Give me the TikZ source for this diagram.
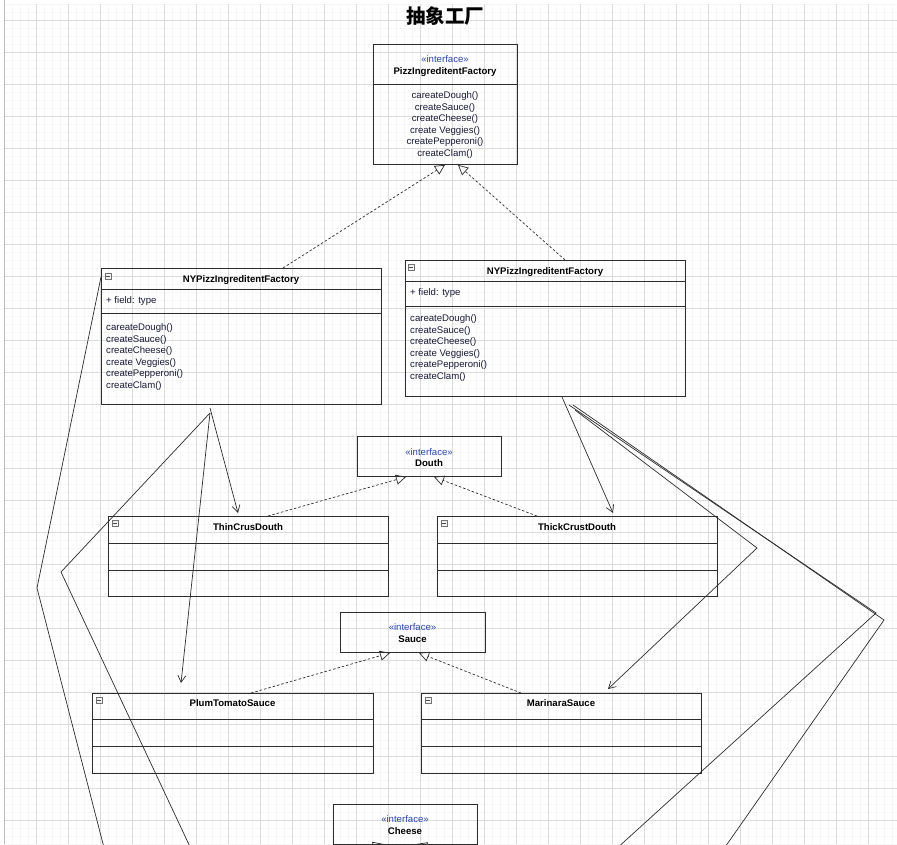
\documentclass[tikz,border=0pt]{standalone}
\usepackage{fontspec}
\setmainfont{Liberation Sans}
\newfontfamily\cjkfont{Noto Sans CJK SC}
\usetikzlibrary{arrows.meta,calc}
\definecolor{iface}{RGB}{40,70,170}
\definecolor{mtxt}{RGB}{25,25,55}
\definecolor{gmin}{RGB}{246,246,246}
\definecolor{gmaj}{RGB}{220,220,220}
\definecolor{lnc}{RGB}{45,45,45}
\tikzset{
  cls/.style={draw=lnc, line width=0.9pt, inner sep=0, anchor=north west},
  txt/.style={font=\fontsize{9.6}{11}\selectfont, text=mtxt, inner sep=0},
  nm/.style={font=\fontsize{9.6}{11}\bfseries\selectfont, text=black, inner sep=0},
  st/.style={font=\fontsize{9.6}{11}\selectfont, text=iface, inner sep=0},
  sep/.style={draw=lnc, line width=0.8pt},
  icon/.style={draw=black!55, line width=0.5pt, minimum size=6pt, inner sep=0, fill=black!6,
    path picture={\draw[black!70,line width=0.6pt] ([xshift=1.2pt]path picture bounding box.west) -- ([xshift=-1.2pt]path picture bounding box.east);}},
  realize/.style={draw=lnc, line width=0.7pt, dash pattern=on 2.5pt off 2pt, -{Triangle[open,length=10pt,width=10pt]}},
  assoc/.style={draw=lnc, line width=0.7pt, -{Straight Barb[length=7pt,width=8pt]}},
  plainln/.style={draw=lnc, line width=0.7pt},
}
\begin{document}
\begin{tikzpicture}[x=1pt,y=-1pt]
\useasboundingbox (0,0) rectangle (897,844);
\clip (0,0) rectangle (897,844);
\fill[white] (0,0) rectangle (897,844);
% grid
\foreach \g in {4,12,...,900} \draw[gmin, line width=0.5pt] (\g,4) -- (\g,844);
\foreach \g in {4,12,...,844} \draw[gmin, line width=0.5pt] (4,\g) -- (897,\g);
\foreach \g in {4,36,...,900} \draw[gmaj, line width=0.6pt] (\g,4) -- (\g,844);
\foreach \g in {20,52,...,844} \draw[gmaj, line width=0.6pt] (4,\g) -- (897,\g);
\draw[black!25, line width=1pt] (4,0) -- (4,844);

% title
\node[inner sep=0, anchor=base, font=\cjkfont\bfseries\fontsize{19.5}{20}\selectfont] (title) at (445,23) {抽象工厂};

% top interface
\node[cls, minimum width=144pt, minimum height=120pt] (topF) at (373,44) {};
\draw[sep] (373,84) -- (517,84);
\node[st, anchor=base] (topFs) at (445,62.5) {«interface»};
\node[nm, anchor=base] (topFn) at (445,74.5) {PizzIngreditentFactory};
\foreach \t [count=\i from 0] in {careateDough(),createSauce(),createCheese(),create Veggies(),createPepperoni(),createClam()}
  \node[txt, anchor=base] (topm\i) at (445,98.5+11.6*\i) {\t};

% left factory
\node[cls, minimum width=280pt, minimum height=136pt] (leftF) at (101,268) {};
\draw[sep] (101,289) -- (381,289);
\draw[sep] (101,313) -- (381,313);
\node[icon] (leftFi) at (108,276) {};
\node[nm, anchor=base] (leftFn) at (241,282.5) {NYPizzIngreditentFactory};
\node[txt, anchor=base west] (leftFf) at (106,303.5) {+ field: type};
\foreach \t [count=\i from 0] in {careateDough(),createSauce(),createCheese(),create Veggies(),createPepperoni(),createClam()}
  \node[txt, anchor=base west] (leftm\i) at (106,330.5+11.6*\i) {\t};

% right factory
\node[cls, minimum width=280pt, minimum height=136pt] (rightF) at (405,260) {};
\draw[sep] (405,281) -- (685,281);
\draw[sep] (405,306) -- (685,306);
\node[icon] (rightFi) at (411,267) {};
\node[nm, anchor=base] (rightFn) at (545,274.5) {NYPizzIngreditentFactory};
\node[txt, anchor=base west] (rightFf) at (410,295.5) {+ field: type};
\foreach \t [count=\i from 0] in {careateDough(),createSauce(),createCheese(),create Veggies(),createPepperoni(),createClam()}
  \node[txt, anchor=base west] (rightm\i) at (410,321.5+11.6*\i) {\t};

% Douth interface
\node[cls, minimum width=144pt, minimum height=40pt] (douthI) at (357,436) {};
\node[st, anchor=base] (douthIs) at (429,455.5) {«interface»};
\node[nm, anchor=base] (douthIn) at (429,466.5) {Douth};

% ThinCrusDouth
\node[cls, minimum width=280pt, minimum height=80pt] (thin) at (108,516) {};
\draw[sep] (108,543) -- (388,543);
\draw[sep] (108,570) -- (388,570);
\node[icon] (thini) at (115,523) {};
\node[nm, anchor=base] (thinn) at (248,530.5) {ThinCrusDouth};

% ThickCrustDouth
\node[cls, minimum width=280pt, minimum height=80pt] (thick) at (437,516) {};
\draw[sep] (437,543) -- (717,543);
\draw[sep] (437,570) -- (717,570);
\node[icon] (thicki) at (444,523) {};
\node[nm, anchor=base] (thickn) at (577,530.5) {ThickCrustDouth};

% Sauce interface
\node[cls, minimum width=145pt, minimum height=40pt] (sauceI) at (340,612) {};
\node[st, anchor=base] (sauceIs) at (412.5,630.5) {«interface»};
\node[nm, anchor=base] (sauceIn) at (412.5,642.5) {Sauce};

% PlumTomatoSauce
\node[cls, minimum width=281pt, minimum height=80pt] (plum) at (92,693) {};
\draw[sep] (92,719) -- (373,719);
\draw[sep] (92,746) -- (373,746);
\node[icon] (plumi) at (99,700) {};
\node[nm, anchor=base] (plumn) at (232.5,706.5) {PlumTomatoSauce};

% MarinaraSauce
\node[cls, minimum width=280pt, minimum height=80pt] (mari) at (421,693) {};
\draw[sep] (421,719) -- (701,719);
\draw[sep] (421,746) -- (701,746);
\node[icon] (marii) at (428,700) {};
\node[nm, anchor=base] (marin) at (561,706.5) {MarinaraSauce};

% Cheese interface
\node[cls, minimum width=144pt, minimum height=40pt] (cheeseI) at (333,804) {};
\node[st, anchor=base] (cheeseIs) at (405,822.5) {«interface»};
\node[nm, anchor=base] (cheeseIn) at (405,834.5) {Cheese};

% realization connectors
\draw[realize] ($(leftF.north west)+(182,0)$) -- ($(topF.south west)+(72,0)$);
\draw[realize] ($(rightF.north west)+(160,0)$) -- ($(topF.south west)+(85,0)$);
\draw[realize] ($(thin.north west)+(160,0)$) -- ($(douthI.south west)+(49,0)$);
\draw[realize] ($(thick.north west)+(100,0)$) -- ($(douthI.south west)+(77,0)$);
\draw[realize] ($(plum.north west)+(159,0)$) -- ($(sauceI.south west)+(50,0)$);
\draw[realize] ($(mari.north west)+(100,0)$) -- ($(sauceI.south west)+(79,0)$);
\coordinate (chL) at (240,885);
\coordinate (chR) at (540,885);
\draw[realize] (chL) -- ($(cheeseI.south west)+(50,-1)$);
\draw[realize] (chR) -- ($(cheeseI.south west)+(84,-1)$);

% association connectors from left factory
\coordinate (lA) at (210,408);
\coordinate (lB) at (210,413);
\coordinate (lBend1) at (61,572);
\coordinate (lOff1) at (215,900);
\coordinate (lC) at (101,277);
\coordinate (lBend2) at (37,588);
\coordinate (lOff2) at (117.5,900);
\draw[assoc] (lA) -- ($(thin.north west)+(130,-3)$);
\draw[assoc] (lB) -- ($(plum.north west)+(89,-10)$);
\draw[plainln] (lB) -- (lBend1) -- (lOff1);
\draw[plainln] (lC) -- (lBend2) -- (lOff2);

% association connectors from right factory
\coordinate (rA) at (562,397);
\coordinate (rB) at (575,410);
\coordinate (rBend1) at (757,548);
\coordinate (rC) at (569,405);
\coordinate (rBend2) at (876,613);
\coordinate (rOff2) at (561,899);
\coordinate (rD) at (573,405);
\coordinate (rBend3) at (884,620);
\coordinate (rOff3) at (688,900);
\draw[assoc] (rA) -- ($(thick.north west)+(176,-3)$);
\draw[assoc] (rB) -- (rBend1) -- ($(mari.north west)+(187,-4)$);
\draw[plainln] (rC) -- (rBend2) -- (rOff2);
\draw[plainln] (rD) -- (rBend3) -- (rOff3);
\end{tikzpicture}
\end{document}
